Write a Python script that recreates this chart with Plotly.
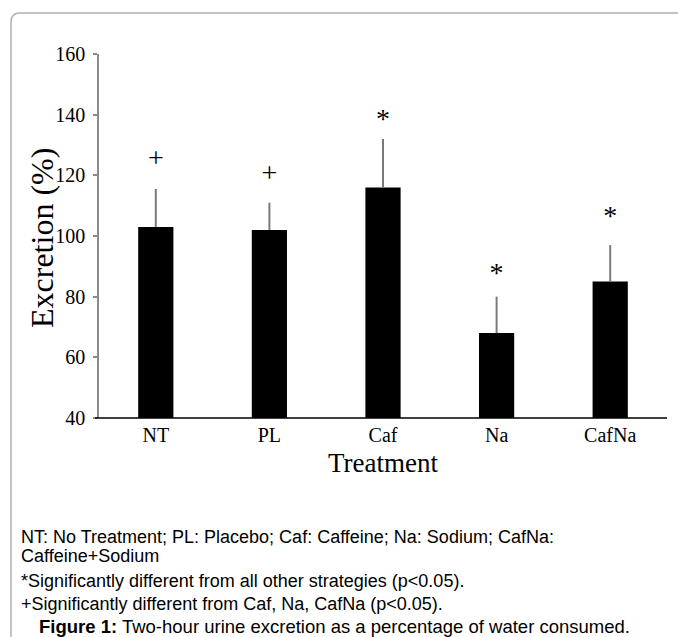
import plotly.graph_objects as go

# ---- data ----
categories = ["NT", "PL", "Caf", "Na", "CafNa"]
excretion = [103, 102, 116, 68, 85]
error_upper = [12.5, 9, 16, 12, 12]
sig_labels = ["+", "+", "*", "*", "*"]
sig_heights = [125, 120, 138, 87, 106]
y_ticks = [40, 60, 80, 100, 120, 140, 160]

caption_lines = [
    "NT: No Treatment; PL: Placebo; Caf: Caffeine; Na: Sodium; CafNa:",
    "Caffeine+Sodium",
    "*Significantly different from all other strategies (p<0.05).",
    "+Significantly different from Caf, Na, CafNa (p<0.05).",
]
figure_caption = "<b>Figure 1:</b> Two-hour urine excretion as a percentage of water consumed."

# ---- layout geometry (pixels) ----
W, H = 678, 637
L, R, T, B = 99, 667, 54, 418
PW, PH = R - L, B - T


def px(x):
    return (x - L) / PW


def py(y):
    return (B - y) / PH


SERIF = "Liberation Serif, Times New Roman, serif"
SANS = "Liberation Sans, Arial, sans-serif"

fig = go.Figure()
fig.add_trace(go.Bar(
    x=categories, y=excretion, width=0.31,
    marker=dict(color="#000000", line=dict(width=0)),
    error_y=dict(type="data", symmetric=False, array=error_upper,
                 arrayminus=[0] * len(error_upper),
                 color="#7a7a7a", thickness=2, width=0),
    showlegend=False, hoverinfo="skip",
))
fig.add_trace(go.Scatter(
    x=categories, y=sig_heights, mode="text", text=sig_labels,
    textposition="middle center",
    textfont=dict(family=SERIF, size=28, color="#000000"),
    showlegend=False, hoverinfo="skip",
))

fig.update_layout(
    width=W, height=H,
    margin=dict(l=L, r=W - R, t=T, b=H - B, pad=0),
    paper_bgcolor="white", plot_bgcolor="white",
    xaxis=dict(
        showline=False, showgrid=False, zeroline=False, ticks="",
        tickfont=dict(family=SERIF, size=20, color="#000000"),
        ticklabelstandoff=3,
        title=dict(text="Treatment", font=dict(family=SERIF, size=27, color="#000000"), standoff=8),
        fixedrange=True,
    ),
    yaxis=dict(
        range=[40, 160], tickvals=y_ticks, ticktext=[str(v) for v in y_ticks],
        showline=True, linecolor="#8a8a8a", linewidth=1.5,
        ticks="outside", ticklen=4, tickcolor="#8a8a8a", tickwidth=1.5,
        showgrid=False, zeroline=False,
        tickfont=dict(family=SERIF, size=20, color="#000000"),
        ticklabelstandoff=4,
        fixedrange=True,
    ),
)

shapes = []
# bottom axis line (extends to the left like the original)
shapes.append(dict(type="line", xref="paper", yref="paper",
                   x0=px(95), x1=px(667), y0=0, y1=0,
                   line=dict(color="#000000", width=1.5)))
# rounded frame around figure (continues beyond right/bottom)
x0, y0, r = 11, 13, 9
frame = (f"M {px(x0)} {py(H + 20)} L {px(x0)} {py(y0 + r)} "
         f"Q {px(x0)} {py(y0)} {px(x0 + r)} {py(y0)} L {px(W + 20)} {py(y0)}")
shapes.append(dict(type="path", xref="paper", yref="paper", path=frame,
                   line=dict(color="#b0b0b0", width=1.5)))
fig.update_layout(shapes=shapes)

ann = []
# y-axis title
ann.append(dict(text="Excretion (%)", xref="paper", yref="paper", x=px(42), y=py(238),
                xanchor="center", yanchor="middle", textangle=-90, showarrow=False,
                font=dict(family=SERIF, size=32, color="#000000")))
caption_y = [537, 556, 581, 604]
for txt, yy in zip(caption_lines, caption_y):
    ann.append(dict(text=txt, xref="paper", yref="paper", x=px(19), y=py(yy),
                    xanchor="left", yanchor="middle", showarrow=False,
                    font=dict(family=SANS, size=18, color="#000000")))
ann.append(dict(text=figure_caption, xref="paper", yref="paper", x=px(37), y=py(626),
                xanchor="left", yanchor="middle", showarrow=False,
                font=dict(family=SANS, size=18.5, color="#000000")))
fig.update_layout(annotations=ann)

fig.write_html("out.html", config={"displayModeBar": False},
               post_script="document.body.style.margin='0';document.body.style.padding='0';")
